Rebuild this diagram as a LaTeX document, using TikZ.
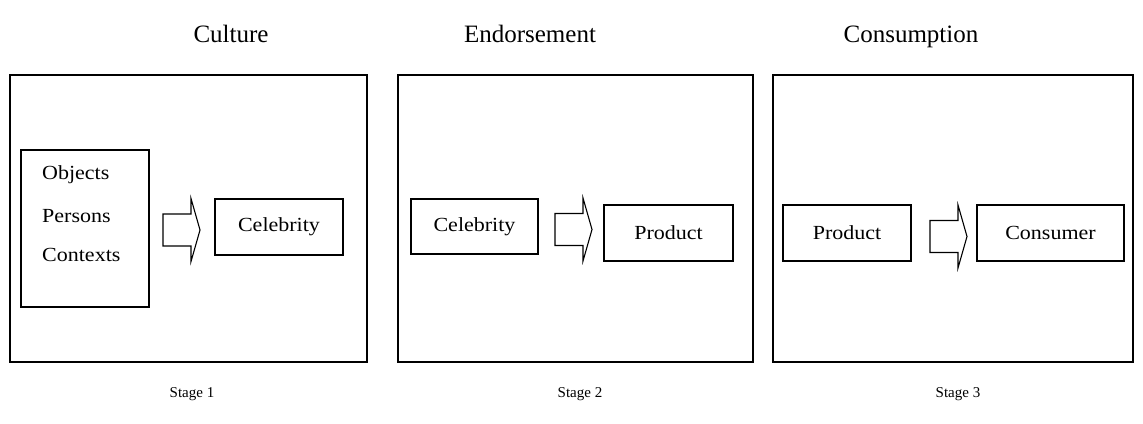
\documentclass[tikz,border=0pt]{standalone}
\usepackage{fontspec}
\setmainfont{Liberation Serif}
\newfontfamily\boxfont[FakeStretch=1.1]{Liberation Serif}
\begin{document}
\begin{tikzpicture}[x=1pt,y=-1pt,line join=miter,
	stagebox/.style={draw,line width=1.3pt,inner sep=0pt},
	inbox/.style={draw,line width=1.1pt,inner sep=0pt,minimum height=56pt,font=\boxfont\fontsize{20}{22}\selectfont},
	listtext/.style={anchor=west,inner sep=0pt,font=\boxfont\fontsize{20}{22}\selectfont},
	heading/.style={anchor=base,font=\fontsize{25}{28}\selectfont},
	stagelabel/.style={anchor=base,font=\fontsize{15}{17}\selectfont}]
	\useasboundingbox (0,0) rectangle (1143,423);
	\newcommand{\blockarrow}[2]{% shaft left end, middle height
		\draw[line width=1.1pt] (#1,#2-16)--++(28,0)--++(0,-15.5)--++(9,31.5)--++(-9,31.5)--++(0,-15.5)--++(-28,0)--cycle;}
	% headings and stage labels
	\node[heading] (culture) at (231,42) {Culture};
	\node[heading] (endorse) at (530,42) {Endorsement};
	\node[heading] (consume) at (911,42) {Consumption};
	\node[stagelabel] (stage1) at (192,397) {Stage 1};
	\node[stagelabel] (stage2) at (580,397) {Stage 2};
	\node[stagelabel] (stage3) at (958,397) {Stage 3};
	% outer boxes
	\node[stagebox,minimum width=357pt,minimum height=287pt] (box1) at (188.5,218.5) {};
	\node[stagebox,minimum width=355pt,minimum height=287pt] (box2) at (575.5,218.5) {};
	\node[stagebox,minimum width=360pt,minimum height=287pt] (box3) at (953,218.5) {};
	% stage 1
	\node[inbox,minimum width=128pt,minimum height=157pt] (sources) at (85,228.5) {};
	\node[listtext] (objects) at (42,175) {Objects};
	\node[listtext] (persons) at (42,216) {Persons};
	\node[listtext] (contexts) at (42,255) {Contexts};
	\node[inbox,minimum width=128pt] (celeb1) at (279,227) {Celebrity};
	\blockarrow{163}{230}
	% stage 2
	\node[inbox,minimum width=127pt,minimum height=55pt] (celeb2) at (474.5,226.5) {Celebrity};
	\node[inbox,minimum width=129pt] (product2) at (668.5,233) {Product};
	\blockarrow{555}{229.5}
	% stage 3
	\node[inbox,minimum width=128pt] (product3) at (847,233) {Product};
	\node[inbox,minimum width=147pt] (consumer) at (1050.5,233) {Consumer};
	\blockarrow{930}{236.5}
\end{tikzpicture}
\end{document}
